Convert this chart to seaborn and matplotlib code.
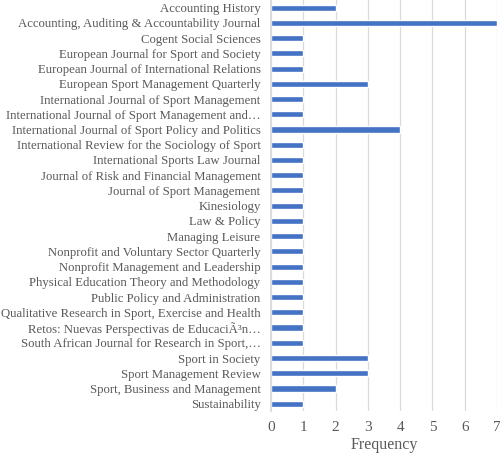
import matplotlib
matplotlib.use("Agg")
import matplotlib.pyplot as plt
import seaborn as sns
import pandas as pd

journals = [
    "Accounting History",
    "Accounting, Auditing & Accountability Journal",
    "Cogent Social Sciences",
    "European Journal for Sport and Society",
    "European Journal of International Relations",
    "European Sport Management Quarterly",
    "International Journal of Sport Management",
    "International Journal of Sport Management and\u2026",
    "International Journal of Sport Policy and Politics",
    "International Review for the Sociology of Sport",
    "International Sports Law Journal",
    "Journal of Risk and Financial Management",
    "Journal of Sport Management",
    "Kinesiology",
    "Law & Policy",
    "Managing Leisure",
    "Nonprofit and Voluntary Sector Quarterly",
    "Nonprofit Management and Leadership",
    "Physical Education Theory and Methodology",
    "Public Policy and Administration",
    "Qualitative Research in Sport, Exercise and Health",
    "Retos: Nuevas Perspectivas de Educaci\u00c3\u00b3n\u2026",
    "South African Journal for Research in Sport,\u2026",
    "Sport in Society",
    "Sport Management Review",
    "Sport, Business and Management",
    "Sustainability",
]
frequency = [2, 7, 1, 1, 1, 3, 1, 1, 4, 1, 1, 1, 1, 1, 1, 1, 1, 1, 1, 1, 1, 1, 1, 3, 3, 2, 1]
x_ticks = [0, 1, 2, 3, 4, 5, 6, 7]

df = pd.DataFrame({"Journal": journals, "Frequency": frequency})

sns.set_theme(style="white")
plt.rcParams["font.family"] = ["Liberation Serif", "DejaVu Serif"]
text_color = "#595959"

fig = plt.figure(figsize=(5.0, 4.55), dpi=100)
ax = fig.add_axes([0.542, 0.096, 0.452, 0.904])
sns.barplot(data=df, x="Frequency", y="Journal", color="#4472C4", width=0.4,
            saturation=1, ax=ax, orient="h")
ax.set_xlim(0, 7)
ax.set_xticks(x_ticks)
ax.xaxis.grid(True, color="#D9D9D9", linewidth=0.9)
ax.set_axisbelow(True)
for s in ["top", "right", "bottom"]:
    ax.spines[s].set_visible(False)
ax.spines["left"].set_color("#D9D9D9")
ax.tick_params(axis="y", length=0, colors=text_color, labelsize=9.2, pad=7.5)
ax.tick_params(axis="x", length=0, colors=text_color, labelsize=11, pad=7)
ax.set_ylabel("")
ax.set_xlabel("Frequency", color=text_color, fontsize=11.5, labelpad=2)
fig.savefig("out.png", dpi=100)
